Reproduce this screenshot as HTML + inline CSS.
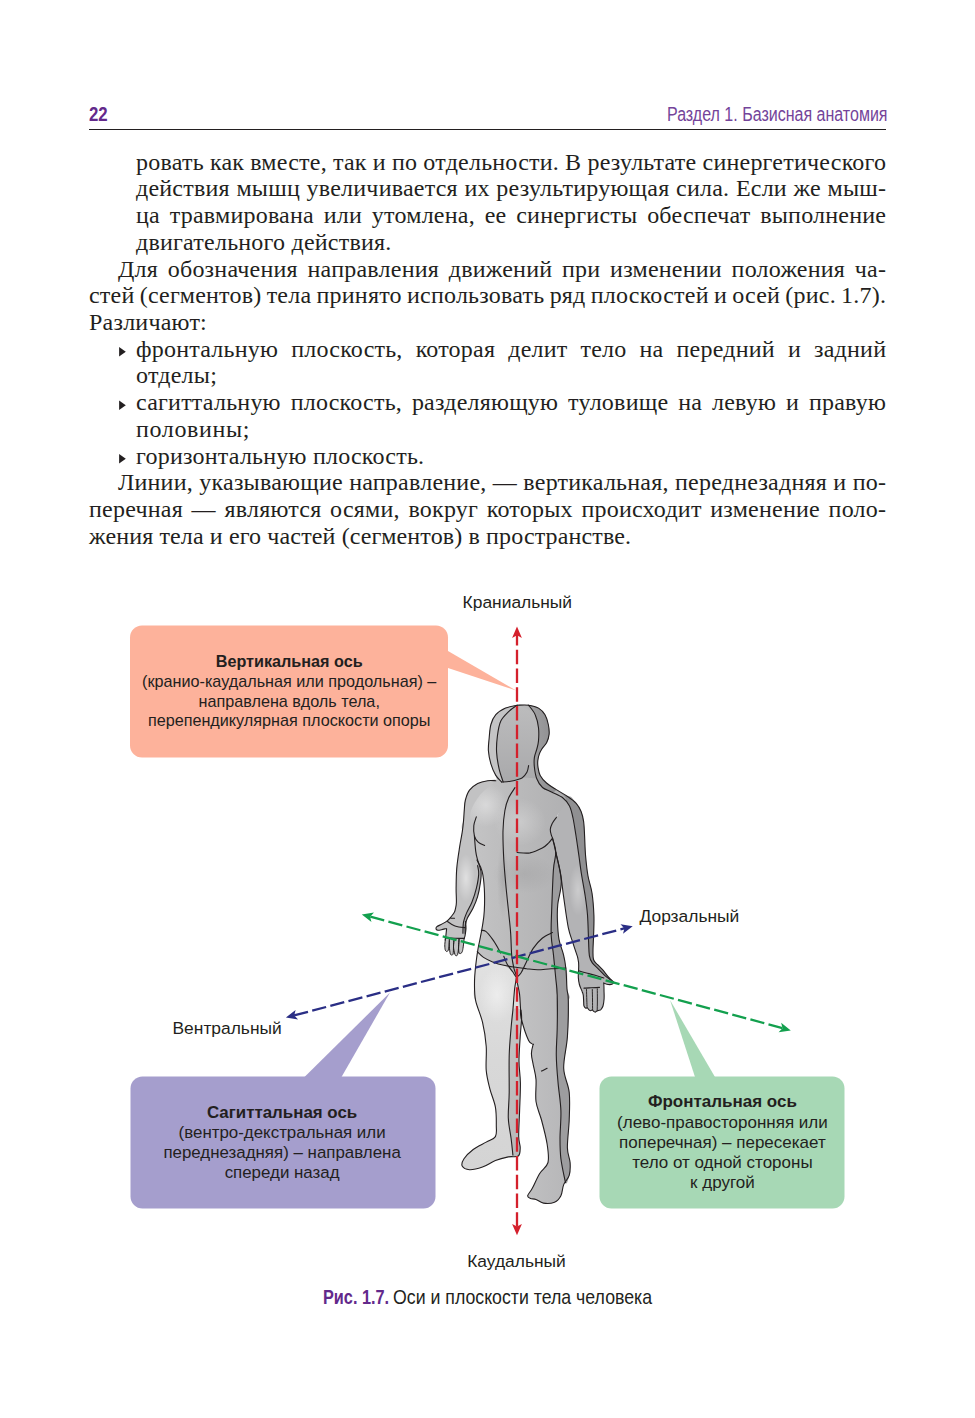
<!DOCTYPE html>
<html><head><meta charset="utf-8">
<style>
html,body{margin:0;padding:0;background:#fff;}
body{width:975px;height:1418px;position:relative;overflow:hidden;}
.hd{position:absolute;font-family:"Liberation Sans",sans-serif;color:#6f3391;white-space:nowrap;transform-origin:0 0;}
.rule{position:absolute;left:89px;width:797px;top:129px;height:1px;background:#231f20;}
.ln{position:absolute;font-family:"Liberation Serif",serif;font-size:24px;letter-spacing:0.22px;line-height:30px;height:30px;color:#231f20;white-space:nowrap;}
.j{}
.i1{left:136px;width:750px;}
.i2{left:118px;width:768px;}
.i0{left:89px;width:797px;}
.bul{position:absolute;left:119.2px;width:0;height:0;border-top:4.75px solid transparent;border-bottom:4.75px solid transparent;border-left:6.5px solid #231f20;}
svg{position:absolute;left:0;top:0;}
.lab{font-family:"Liberation Sans",sans-serif;font-size:17.4px;fill:#231f20;}
.bx{font-family:"Liberation Sans",sans-serif;fill:#231f20;}
.bxb{font-family:"Liberation Sans",sans-serif;font-weight:bold;fill:#231f20;}
</style></head>
<body>
<div class="hd" id="pn" style="left:88.8px;top:103px;font-size:19.8px;font-weight:bold;transform:scaleX(0.85);color:#63298b;">22</div>
<div class="hd" id="rt" style="left:667.0px;top:103px;font-size:19.6px;transform:scaleX(0.817);color:#74449a;">Раздел 1. Базисная анатомия</div>
<div class="rule"></div>

<div class="ln i1 j" style="top:146.60px;word-spacing:-0.142px">ровать как вместе, так и по отдельности. В результате синергетического</div>
<div class="ln i1 j" style="top:173.33px;word-spacing:0.408px">действия мышц увеличивается их результирующая сила. Если же мыш-</div>
<div class="ln i1 j" style="top:200.06px;word-spacing:3.581px">ца травмирована или утомлена, ее синергисты обеспечат выполнение</div>
<div class="ln i1" style="top:226.79px">двигательного действия.</div>
<div class="ln i2 j" style="top:253.52px;word-spacing:3.482px">Для обозначения направления движений при изменении положения ча-</div>
<div class="ln i0 j" style="top:280.25px;word-spacing:-1.008px">стей (сегментов) тела принято использовать ряд плоскостей и осей (рис. 1.7).</div>
<div class="ln i0" style="top:306.98px">Различают:</div>
<div class="ln i1 j" style="top:333.71px;word-spacing:6.822px">фронтальную плоскость, которая делит тело на передний и задний</div>
<div class="ln i1" style="top:360.44px">отделы;</div>
<div class="ln i1 j" style="top:387.17px;word-spacing:3.656px">сагиттальную плоскость, разделяющую туловище на левую и правую</div>
<div class="ln i1" style="top:413.90px;letter-spacing:0.65px">половины;</div>
<div class="ln i1" style="top:440.63px">горизонтальную плоскость.</div>
<div class="ln i2 j" style="top:467.36px;word-spacing:0.112px">Линии, указывающие направление, — вертикальная, переднезадняя и по-</div>
<div class="ln i0 j" style="top:494.09px;word-spacing:2.465px">перечная — являются осями, вокруг которых происходит изменение поло-</div>
<div class="ln i0" style="top:520.82px;letter-spacing:0.13px">жения тела и его частей (сегментов) в пространстве.</div>

<svg width="975" height="1418" viewBox="0 0 975 1418">
  <!-- boxes -->
  <g id="bullets"><path d="M119.1,347.00 L125.8,351.75 L119.1,356.50 Z" fill="#231f20"/><path d="M119.1,400.50 L125.8,405.25 L119.1,410.00 Z" fill="#231f20"/><path d="M119.1,453.90 L125.8,458.65 L119.1,463.40 Z" fill="#231f20"/></g>
  <g id="boxes">
    <path d="M448,651 L516,690.5 L448,668 Z" fill="#fdb29b"/>
    <rect x="130" y="625.5" width="318" height="132" rx="12" fill="#fdb29b"/>
    <path d="M304.5,1077 L390,992.5 L341.5,1077 Z" fill="#a59ecd"/>
    <rect x="130.5" y="1076.5" width="305" height="132" rx="12" fill="#a59ecd"/>
    <path d="M695,1077 L670,1000 L715,1077 Z" fill="#a7d8b5"/>
    <rect x="599.5" y="1076.5" width="245" height="132" rx="12" fill="#a7d8b5"/>
  </g>
  <g id="figure"><defs><radialGradient id="gHi" cx="0.5" cy="0.5" r="0.5"><stop offset="0" stop-color="#ffffff" stop-opacity="0.55"/><stop offset="1" stop-color="#ffffff" stop-opacity="0"/></radialGradient><radialGradient id="gSh" cx="0.5" cy="0.5" r="0.5"><stop offset="0" stop-color="#000000" stop-opacity="0.10"/><stop offset="1" stop-color="#000000" stop-opacity="0"/></radialGradient><linearGradient id="gFace" x1="0" y1="0" x2="0" y2="1"><stop offset="0" stop-color="#bcbcbd"/><stop offset="1" stop-color="#a9a9ab"/></linearGradient><linearGradient id="gStripH" x1="0" y1="0" x2="1" y2="0"><stop offset="0" stop-color="#a4a4a6"/><stop offset="1" stop-color="#8c8c8e"/></linearGradient><linearGradient id="gLegL" x1="0" y1="0" x2="0" y2="1"><stop offset="0" stop-color="#e2e2e2"/><stop offset="0.5" stop-color="#d8d8d8"/><stop offset="1" stop-color="#d4d4d4"/></linearGradient><linearGradient id="gLegLs" x1="0" y1="0" x2="0" y2="1"><stop offset="0" stop-color="#c4c4c4"/><stop offset="1" stop-color="#b8b8b8"/></linearGradient><linearGradient id="gLegR" x1="0" y1="0" x2="1" y2="0"><stop offset="0" stop-color="#c2c2c3"/><stop offset="1" stop-color="#b6b6b8"/></linearGradient><linearGradient id="gTorso" x1="0" y1="0" x2="1" y2="0"><stop offset="0" stop-color="#c6c6c7"/><stop offset="0.55" stop-color="#b9b9ba"/><stop offset="1" stop-color="#b0b0b2"/></linearGradient></defs>
<path d="M568.0,796.7 C571.3,794.4 574.0,800.8 576.2,803.3 C578.4,805.8 579.9,808.5 581.1,811.5 C582.3,814.5 583.0,817.3 583.6,821.4 C584.2,825.5 584.3,830.2 584.6,836.0 C584.9,841.8 585.0,849.3 585.6,856.0 C586.2,862.7 586.9,869.8 588.0,876.0 C589.1,882.2 591.0,886.5 592.0,893.0 C593.0,899.5 593.6,908.0 593.9,915.0 C594.2,922.0 593.8,929.2 593.6,935.0 C593.5,940.8 593.0,945.9 593.0,950.0 C593.0,954.1 592.8,957.1 593.5,959.5 C594.2,961.9 595.8,962.8 597.3,964.4 C598.8,966.0 600.5,967.4 602.3,969.4 C604.1,971.4 606.2,974.5 608.1,976.6 C610.0,978.8 613.1,981.0 613.8,982.3 C614.5,983.5 613.3,983.7 612.4,984.1 C611.5,984.5 609.5,984.7 608.1,984.5 C606.7,984.3 604.5,982.1 603.8,983.0 C603.1,983.9 604.0,987.4 604.0,990.0 C604.0,992.6 604.3,996.1 604.1,998.8 C603.9,1001.5 603.5,1004.2 603.0,1006.0 C602.5,1007.8 601.5,1008.9 600.9,1009.6 C600.2,1010.3 599.8,1010.1 599.1,1010.3 C598.4,1010.5 597.5,1010.7 596.9,1011.0 C596.2,1011.3 595.7,1012.0 595.2,1012.1 C594.7,1012.2 594.2,1011.8 593.7,1011.4 C593.2,1011.0 592.8,1010.1 592.3,1010.0 C591.8,1009.9 591.1,1010.8 590.5,1010.7 C589.9,1010.6 589.2,1010.1 588.7,1009.6 C588.2,1009.1 587.8,1008.0 587.3,1007.8 C586.8,1007.6 586.3,1008.5 585.8,1008.2 C585.2,1007.9 584.4,1007.0 584.0,1006.0 C583.6,1005.0 583.8,1004.2 583.7,1002.4 C583.6,1000.6 583.5,997.1 583.3,995.3 C583.0,993.5 582.9,993.5 582.2,991.7 C581.6,989.9 580.0,986.9 579.4,984.5 C578.8,982.1 578.4,979.7 578.3,977.3 C578.2,974.9 578.5,972.5 578.6,970.1 C578.7,967.7 578.8,965.1 578.6,962.9 C578.4,960.7 578.5,960.3 577.6,957.0 C576.7,953.7 574.5,948.1 573.0,943.2 C571.5,938.3 569.9,935.4 568.3,927.6 C566.7,919.8 564.9,905.7 563.6,896.6 C562.3,887.5 561.8,880.7 560.5,873.3 C559.2,865.9 557.1,858.1 555.8,852.3 C554.5,846.4 553.2,841.0 552.5,838.2 C551.8,835.4 551.9,837.2 551.5,835.7 C551.1,834.2 550.2,831.5 550.3,829.5 C550.4,827.5 551.2,825.4 552.2,823.4 C553.2,821.4 553.9,821.7 556.5,817.2 C559.1,812.8 564.7,799.0 568.0,796.7Z" fill="#b3b3b5" stroke="none" stroke-width="1.1" stroke-linejoin="round" stroke-linecap="round"/>
<ellipse cx="578" cy="890" rx="9" ry="26" fill="url(#gHi)" opacity="0.6"/>
<path d="M528.6,705.2 C530.2,705.7 535.8,706.5 538.5,708.1 C541.2,709.7 543.4,712.0 545.0,714.7 C546.6,717.4 547.6,721.2 548.3,724.5 C549.0,727.8 549.4,731.4 549.1,734.4 C548.8,737.4 547.9,740.1 546.7,742.6 C545.5,745.1 542.9,747.3 541.7,749.2 C540.5,751.1 539.9,752.2 539.3,754.1 C538.6,756.0 538.0,758.4 537.8,760.6 C537.6,762.8 537.6,764.7 538.0,767.2 C538.4,769.7 538.8,772.8 540.2,775.4 C541.6,778.0 543.9,780.7 546.5,783.0 C549.1,785.3 552.3,787.1 555.9,789.4 C559.5,791.7 564.6,794.4 568.0,796.7 C571.4,799.0 574.0,800.8 576.2,803.3 C578.4,805.8 579.9,808.5 581.1,811.5 C582.3,814.5 583.0,817.3 583.6,821.4 C584.2,825.5 584.3,830.2 584.6,836.0 C584.9,841.8 585.0,849.3 585.6,856.0 C586.2,862.7 586.9,869.8 588.0,876.0 C589.1,882.2 591.0,886.5 592.0,893.0 C593.0,899.5 593.6,908.0 593.9,915.0 C594.2,922.0 593.8,929.2 593.6,935.0 C593.5,940.8 593.0,945.9 593.0,950.0 C593.0,954.1 592.8,957.1 593.5,959.5 C594.2,961.9 595.8,962.8 597.3,964.4 C598.8,966.0 600.5,967.4 602.3,969.4 C604.1,971.4 606.2,974.5 608.1,976.6 C610.0,978.8 613.3,981.7 613.8,982.3 C614.3,982.9 612.3,981.3 610.9,980.2 C609.5,979.1 607.4,977.8 605.2,975.9 C603.1,974.0 600.1,970.9 598.0,968.7 C595.9,966.5 593.7,965.0 592.3,962.9 C590.9,960.8 590.0,959.3 589.4,955.8 C588.8,952.3 588.9,948.9 588.6,942.1 C588.3,935.3 588.1,922.7 587.5,915.0 C586.9,907.3 586.2,902.7 585.2,896.0 C584.2,889.3 582.7,881.8 581.6,875.0 C580.5,868.2 579.8,861.8 578.8,855.0 C577.8,848.2 576.8,840.7 575.8,834.5 C574.8,828.3 574.0,822.8 573.0,818.0 C572.0,813.2 571.2,809.3 569.5,806.0 C567.8,802.7 566.0,800.3 563.0,798.0 C560.0,795.7 554.9,793.8 551.5,792.0 C548.1,790.2 545.0,789.7 542.5,787.5 C540.0,785.3 538.1,782.1 536.8,778.7 C535.4,775.3 534.8,770.8 534.4,767.2 C534.0,763.7 534.0,760.4 534.4,757.4 C534.8,754.4 536.1,752.0 536.8,749.2 C537.5,746.5 538.2,744.5 538.5,740.9 C538.8,737.3 539.0,732.2 538.5,727.8 C538.0,723.4 536.9,718.5 535.2,714.7 C533.6,710.9 529.7,706.8 528.6,705.2 C527.5,703.6 527.0,704.7 528.6,705.2Z" fill="#909092" stroke="none" stroke-width="1.1" stroke-linejoin="round" stroke-linecap="round"/>
<path d="M517.1,705.2 C520.9,704.7 525.0,704.7 528.6,705.2 C532.2,705.7 535.8,706.5 538.5,708.1 C541.2,709.7 543.4,712.0 545.0,714.7 C546.6,717.4 547.6,721.2 548.3,724.5 C549.0,727.8 549.4,731.4 549.1,734.4 C548.8,737.4 547.9,740.1 546.7,742.6 C545.5,745.1 542.9,747.3 541.7,749.2 C540.5,751.1 539.9,752.2 539.3,754.1 C538.6,756.0 538.0,758.4 537.8,760.6 C537.6,762.8 537.6,764.7 538.0,767.2 C538.4,769.7 538.8,772.8 540.2,775.4 C541.6,778.0 543.9,780.7 546.5,783.0 C549.1,785.3 552.6,786.6 555.9,789.4 C559.1,792.2 566.0,795.4 566.0,800.0 C566.0,804.6 558.5,813.4 556.2,817.3 C553.9,821.2 553.2,821.4 552.2,823.4 C551.2,825.4 550.4,827.5 550.3,829.5 C550.2,831.5 551.1,834.2 551.5,835.7 C551.9,837.2 551.8,835.4 552.5,838.2 C553.2,841.0 554.3,845.2 555.8,852.3 C557.3,859.4 561.0,872.3 561.3,881.0 C561.6,889.7 558.4,897.8 557.8,904.3 C557.1,910.8 557.2,914.1 557.4,919.9 C557.6,925.7 558.0,933.4 559.0,939.3 C560.0,945.2 562.5,950.2 563.6,955.1 C564.8,960.0 565.3,963.1 565.9,968.7 C566.5,974.4 566.6,983.8 567.0,989.0 C567.4,994.2 572.0,996.2 568.3,1000.0 C564.6,1003.8 553.0,1010.0 545.0,1012.0 C537.0,1014.0 528.3,1012.3 520.0,1012.0 C511.7,1011.7 502.4,1012.0 495.0,1010.0 C487.6,1008.0 479.0,1004.8 475.6,1000.3 C472.2,995.8 474.5,988.9 474.5,983.3 C474.5,977.6 475.0,972.0 475.6,966.4 C476.2,960.8 477.2,953.9 477.9,949.5 C478.6,945.1 479.0,944.1 479.8,940.0 C480.6,935.9 481.9,929.8 482.6,924.9 C483.4,920.0 484.0,916.9 484.3,910.8 C484.6,904.7 484.7,894.8 484.3,888.2 C483.9,881.6 483.3,876.0 482.1,871.3 C480.9,866.6 480.3,866.8 477.0,860.0 C473.7,853.2 464.6,837.5 462.4,830.8 C460.2,824.1 463.3,823.5 463.6,820.0 C463.9,816.5 464.0,813.2 464.3,809.9 C464.6,806.6 464.5,803.3 465.4,800.0 C466.3,796.7 467.4,792.9 469.5,790.2 C471.6,787.5 474.7,785.2 477.7,783.6 C480.7,782.0 484.6,781.2 487.6,780.7 C490.6,780.2 494.4,781.6 495.8,780.7 C497.2,779.8 496.6,778.2 495.8,775.4 C495.0,772.6 492.1,768.0 490.9,763.9 C489.7,759.8 488.7,755.2 488.4,750.8 C488.1,746.4 488.8,742.1 489.2,737.7 C489.6,733.3 489.8,728.3 490.9,724.5 C492.0,720.7 493.4,717.4 495.8,714.7 C498.2,712.0 502.1,709.7 505.6,708.1 C509.2,706.5 513.3,705.7 517.1,705.2Z" fill="url(#gTorso)" stroke="none" stroke-width="1.1" stroke-linejoin="round" stroke-linecap="round"/>
<ellipse cx="486" cy="805" rx="22" ry="22" fill="url(#gHi)" opacity="0.7"/>
<ellipse cx="520" cy="822" rx="26" ry="24" fill="url(#gHi)" opacity="0.45"/>
<ellipse cx="524" cy="874" rx="32" ry="20" fill="url(#gSh)" opacity="0.6"/>
<ellipse cx="503" cy="880" rx="6" ry="40" fill="url(#gSh)" opacity="0.8"/>
<path d="M565.9,968.7 C568.5,972.1 566.6,983.8 567.0,989.0 C567.4,994.2 568.2,992.0 568.3,1000.0 C568.4,1008.0 568.2,1025.5 567.4,1036.9 C566.6,1048.3 563.4,1059.1 563.7,1068.3 C564.0,1077.5 568.3,1083.7 569.2,1092.3 C570.1,1100.9 569.5,1110.8 569.2,1120.0 C568.9,1129.2 567.2,1140.6 567.4,1147.7 C567.5,1154.8 569.8,1157.9 570.1,1162.5 C570.4,1167.1 570.3,1171.7 569.2,1175.4 C568.1,1179.1 565.1,1181.2 563.7,1184.6 C562.3,1188.0 562.4,1192.8 560.9,1195.7 C559.4,1198.6 557.4,1201.0 554.5,1202.2 C551.6,1203.4 546.5,1203.6 543.4,1203.1 C540.3,1202.6 538.1,1200.2 536.0,1199.4 C533.9,1198.6 531.9,1199.1 530.5,1198.5 C529.1,1197.9 527.4,1197.4 527.7,1195.7 C528.0,1194.0 530.3,1192.0 532.3,1188.3 C534.3,1184.6 537.1,1177.8 539.7,1173.5 C542.3,1169.2 546.8,1167.4 548.0,1162.5 C549.2,1157.6 548.2,1151.1 547.1,1144.0 C546.0,1136.9 543.4,1127.1 541.5,1120.0 C539.6,1112.9 536.9,1108.3 536.0,1101.5 C535.1,1094.7 536.5,1085.6 536.0,1079.4 C535.5,1073.2 534.0,1068.9 533.2,1064.6 C532.4,1060.3 531.4,1056.9 531.4,1053.5 C531.4,1050.1 533.7,1046.5 533.2,1044.3 C532.7,1042.1 530.6,1044.9 528.6,1040.6 C526.6,1036.3 522.6,1023.9 521.2,1018.5 C519.9,1013.1 520.8,1012.0 520.5,1008.0 C520.2,1004.0 520.1,998.7 519.6,994.6 C519.1,990.5 518.0,986.3 517.4,983.3 C516.8,980.3 515.7,978.3 516.3,976.6 C516.9,974.9 519.1,974.5 520.8,973.2 C522.5,971.9 523.6,969.3 526.4,968.7 C529.2,968.1 533.6,969.8 537.7,969.8 C541.8,969.8 546.5,968.9 551.2,968.7 C555.9,968.5 563.3,965.3 565.9,968.7Z" fill="url(#gLegR)" stroke="none" stroke-width="1.1" stroke-linejoin="round" stroke-linecap="round"/>
<path d="M568.3,1000.0 C570.0,1007.0 568.2,1025.5 567.4,1036.9 C566.6,1048.3 563.4,1059.1 563.7,1068.3 C564.0,1077.5 568.3,1083.7 569.2,1092.3 C570.1,1100.9 569.5,1110.8 569.2,1120.0 C568.9,1129.2 567.2,1140.6 567.4,1147.7 C567.5,1154.8 569.8,1157.9 570.1,1162.5 C570.4,1167.1 570.0,1172.0 569.2,1175.4 C568.4,1178.8 566.9,1185.6 565.5,1182.8 C564.1,1180.0 561.8,1166.2 560.9,1158.8 C560.0,1151.4 560.0,1146.5 560.0,1138.5 C560.0,1130.5 561.2,1120.0 560.9,1110.8 C560.6,1101.6 558.9,1092.3 558.1,1083.1 C557.3,1073.9 556.4,1064.6 556.3,1055.4 C556.1,1046.2 557.1,1037.8 557.2,1027.7 C557.4,1017.6 555.4,999.6 557.2,995.0 C559.1,990.4 566.6,993.0 568.3,1000.0Z" fill="#9d9d9f" stroke="none" stroke-width="1.1" stroke-linejoin="round" stroke-linecap="round"/>
<path d="M475.6,966.4 C475.1,971.7 474.5,977.6 474.5,983.3 C474.5,988.9 474.3,993.8 475.6,1000.3 C476.9,1006.8 480.7,1014.6 482.5,1022.2 C484.3,1029.9 485.6,1038.2 486.2,1046.2 C486.8,1054.2 485.6,1063.0 486.2,1070.1 C486.8,1077.2 488.3,1082.4 489.8,1088.6 C491.3,1094.8 494.3,1100.9 495.4,1107.1 C496.5,1113.2 496.3,1120.6 496.3,1125.5 C496.3,1130.4 497.1,1133.8 495.4,1136.6 C493.7,1139.4 489.9,1139.9 486.2,1142.1 C482.5,1144.2 476.9,1146.7 473.2,1149.5 C469.5,1152.3 465.8,1156.0 464.0,1158.8 C462.2,1161.6 461.3,1164.3 462.2,1166.1 C463.1,1167.9 466.1,1169.6 469.5,1169.8 C472.9,1170.0 478.2,1168.6 482.5,1167.1 C486.8,1165.6 491.1,1162.3 495.4,1160.6 C499.7,1158.9 504.5,1157.7 508.3,1156.9 C512.1,1156.1 516.3,1157.5 518.3,1156.0 C520.3,1154.5 520.1,1150.9 520.2,1147.7 C520.3,1144.5 518.8,1142.8 518.7,1136.6 C518.6,1130.4 519.3,1119.7 519.6,1110.8 C519.9,1101.9 520.5,1091.4 520.4,1083.1 C520.3,1074.8 519.0,1068.6 519.0,1060.9 C519.0,1053.2 519.8,1044.0 520.2,1036.9 C520.6,1029.8 521.5,1023.0 521.6,1018.5 C521.7,1014.0 521.3,1014.0 521.0,1010.0 C520.7,1006.0 520.2,999.1 519.6,994.6 C519.0,990.1 518.0,986.3 517.4,983.3 C516.8,980.3 517.0,978.5 516.3,976.6 C515.5,974.7 515.0,973.9 512.9,972.0 C510.8,970.1 507.2,967.0 503.8,965.3 C500.4,963.6 496.0,963.2 492.6,961.9 C489.2,960.6 486.1,959.1 483.5,957.4 C480.9,955.7 478.6,950.2 477.3,951.7 C476.0,953.2 476.1,961.1 475.6,966.4Z" fill="url(#gLegL)" stroke="none" stroke-width="1.1" stroke-linejoin="round" stroke-linecap="round"/>
<path d="M512.9,1010.0 C511.2,1013.0 511.7,1020.1 511.1,1027.7 C510.5,1035.3 509.5,1044.6 509.2,1055.4 C508.9,1066.2 509.3,1081.8 509.2,1092.3 C509.1,1102.8 508.0,1110.4 508.3,1118.1 C508.6,1125.8 510.3,1132.3 511.1,1138.5 C511.9,1144.7 511.7,1152.2 512.9,1155.1 C514.1,1158.0 517.1,1157.2 518.3,1156.0 C519.5,1154.8 520.1,1150.9 520.2,1147.7 C520.3,1144.5 518.8,1142.8 518.7,1136.6 C518.6,1130.4 519.3,1119.7 519.6,1110.8 C519.9,1101.9 520.5,1091.4 520.4,1083.1 C520.3,1074.8 519.0,1068.6 519.0,1060.9 C519.0,1053.2 519.8,1044.0 520.2,1036.9 C520.6,1029.8 521.5,1023.0 521.6,1018.5 C521.7,1014.0 522.5,1011.4 521.0,1010.0 C519.5,1008.6 514.5,1007.0 512.9,1010.0Z" fill="url(#gLegLs)" stroke="none" stroke-width="1.1" stroke-linejoin="round" stroke-linecap="round"/>
<ellipse cx="497" cy="995" rx="18" ry="28" fill="url(#gHi)" opacity="0.8"/>
<path d="M517.1,705.2 C512.7,704.7 511.6,708.7 508.9,711.4 C506.2,714.1 502.6,717.2 500.7,721.3 C498.8,725.4 498.1,730.8 497.4,736.0 C496.7,741.2 496.3,746.9 496.6,752.4 C496.9,757.9 498.0,763.9 499.1,768.8 C500.2,773.7 502.5,779.8 503.2,782.0 C503.9,784.2 502.0,782.1 503.2,782.0 C504.4,781.9 507.5,781.9 510.6,781.2 C513.7,780.5 517.6,778.3 522.0,777.9 C526.4,777.5 534.3,778.6 536.8,778.7 C539.3,778.8 537.2,780.6 536.8,778.7 C536.4,776.8 534.8,770.8 534.4,767.2 C534.0,763.7 534.0,760.4 534.4,757.4 C534.8,754.4 536.1,752.0 536.8,749.2 C537.5,746.5 538.2,744.5 538.5,740.9 C538.8,737.3 539.0,732.2 538.5,727.8 C538.0,723.4 538.8,718.5 535.2,714.7 C531.6,710.9 521.5,705.8 517.1,705.2Z" fill="url(#gFace)" stroke="none" stroke-width="1.1" stroke-linejoin="round" stroke-linecap="round"/>
<path d="M528.6,705.2 C530.2,705.7 535.8,706.5 538.5,708.1 C541.2,709.7 543.4,712.0 545.0,714.7 C546.6,717.4 547.6,721.2 548.3,724.5 C549.0,727.8 549.4,731.4 549.1,734.4 C548.8,737.4 547.9,740.1 546.7,742.6 C545.5,745.1 542.9,747.3 541.7,749.2 C540.5,751.1 539.9,752.2 539.3,754.1 C538.6,756.0 538.0,758.4 537.8,760.6 C537.6,762.8 537.6,764.7 538.0,767.2 C538.4,769.7 538.8,772.8 540.2,775.4 C541.6,778.0 543.9,780.7 546.5,783.0 C549.1,785.3 555.1,787.9 555.9,789.4 C556.7,790.9 553.7,792.3 551.5,792.0 C549.3,791.7 545.0,789.7 542.5,787.5 C540.0,785.3 538.1,782.1 536.8,778.7 C535.4,775.3 534.8,770.8 534.4,767.2 C534.0,763.7 534.0,760.4 534.4,757.4 C534.8,754.4 536.1,752.0 536.8,749.2 C537.5,746.5 538.2,744.5 538.5,740.9 C538.8,737.3 539.0,732.2 538.5,727.8 C538.0,723.4 536.9,718.5 535.2,714.7 C533.6,710.9 529.7,706.8 528.6,705.2 C527.5,703.6 527.0,704.7 528.6,705.2Z" fill="url(#gStripH)" stroke="none" stroke-width="1.1" stroke-linejoin="round" stroke-linecap="round"/>
<path d="M517.1,705.2 C515.2,705.7 509.2,706.5 505.6,708.1 C502.1,709.7 498.2,712.0 495.8,714.7 C493.4,717.4 492.0,720.7 490.9,724.5 C489.8,728.3 489.6,733.3 489.2,737.7 C488.8,742.1 488.1,746.4 488.4,750.8 C488.7,755.2 489.7,759.8 490.9,763.9 C492.1,768.0 494.0,772.4 495.8,775.4 C497.6,778.4 500.3,780.9 501.5,782.0 C502.7,783.1 503.6,784.2 503.2,782.0 C502.8,779.8 500.2,773.7 499.1,768.8 C498.0,763.9 496.9,757.9 496.6,752.4 C496.3,746.9 496.7,741.2 497.4,736.0 C498.1,730.8 498.8,725.4 500.7,721.3 C502.6,717.2 506.2,714.1 508.9,711.4 C511.6,708.7 515.7,706.2 517.1,705.2 C518.5,704.2 519.0,704.7 517.1,705.2Z" fill="#c4c4c5" stroke="none" stroke-width="1.1" stroke-linejoin="round" stroke-linecap="round"/>
<path d="M555.8,852.3 C557.3,859.4 561.0,872.3 561.3,881.0 C561.6,889.7 558.4,897.8 557.8,904.3 C557.1,910.8 557.2,914.1 557.4,919.9 C557.6,925.7 558.0,933.4 559.0,939.3 C560.0,945.2 562.5,950.2 563.6,955.1 C564.8,960.0 565.3,963.1 565.9,968.7 C566.5,974.4 566.6,983.8 567.0,989.0 C567.4,994.2 569.9,999.0 568.3,1000.0 C566.7,1001.0 559.3,998.7 557.2,995.0 C555.1,991.3 556.3,984.4 555.7,977.7 C555.1,971.1 554.2,962.2 553.5,955.1 C552.8,948.0 551.5,942.6 551.2,935.4 C550.9,928.2 551.2,923.0 551.6,912.1 C552.0,901.2 552.7,880.0 553.4,870.0 C554.1,860.0 555.9,857.6 555.8,852.3 C555.6,847.0 552.5,838.2 552.5,838.2 C552.5,838.2 554.3,845.2 555.8,852.3Z" fill="#9c9c9e" stroke="none" stroke-width="1.1" stroke-linejoin="round" stroke-linecap="round"/>
<path d="M495.8,780.7 C497.1,778.3 490.6,780.2 487.6,780.7 C484.6,781.2 480.7,782.0 477.7,783.6 C474.7,785.2 471.6,787.5 469.5,790.2 C467.4,792.9 466.3,796.7 465.4,800.0 C464.5,803.3 464.6,806.6 464.3,809.9 C464.0,813.2 463.9,816.5 463.6,820.0 C463.3,823.5 463.1,825.8 462.4,830.8 C461.7,835.8 460.1,843.4 459.2,849.8 C458.2,856.1 457.2,862.5 456.7,868.9 C456.2,875.3 456.2,882.6 456.1,888.2 C456.1,893.8 456.5,899.0 456.4,902.3 C456.3,905.6 455.9,906.4 455.6,908.0 C455.3,909.6 455.1,910.7 454.5,912.0 C453.9,913.3 452.9,914.6 451.7,916.0 C450.5,917.4 449.2,919.2 447.5,920.6 C445.8,922.0 443.3,923.3 441.5,924.3 C439.7,925.3 437.8,925.8 436.9,926.6 C436.0,927.4 435.9,928.3 436.0,928.9 C436.1,929.5 436.9,930.1 437.8,930.3 C438.7,930.4 440.1,930.1 441.5,929.8 C442.9,929.5 445.3,928.6 446.2,928.5 C447.1,928.4 446.7,927.8 446.6,928.9 C446.6,930.0 446.2,932.8 445.9,935.4 C445.6,938.0 444.9,942.2 444.8,944.6 C444.7,947.0 444.9,948.6 445.2,949.7 C445.5,950.9 446.1,951.4 446.6,951.5 C447.1,951.6 447.5,950.7 448.0,950.6 C448.5,950.5 449.0,950.5 449.4,951.0 C449.8,951.5 449.9,953.1 450.3,953.8 C450.7,954.5 451.2,955.0 451.7,955.0 C452.2,955.0 452.7,954.0 453.1,953.8 C453.5,953.6 453.9,953.9 454.2,954.0 C454.5,954.1 454.5,954.0 454.9,954.3 C455.2,954.6 455.8,955.7 456.3,955.7 C456.8,955.7 457.3,954.8 457.7,954.3 C458.1,953.8 458.6,953.2 458.8,953.0 C459.0,952.8 458.8,952.8 459.1,952.9 C459.5,953.0 460.4,953.6 460.9,953.4 C461.4,953.2 461.9,952.6 462.3,951.5 C462.7,950.4 462.9,949.0 463.2,946.9 C463.5,944.8 463.8,940.5 464.1,938.6 C464.4,936.7 464.8,937.1 465.1,935.4 C465.4,933.7 465.9,930.8 466.0,928.5 C466.1,926.2 465.3,923.2 465.5,921.5 C465.7,919.8 466.1,920.4 467.4,918.1 C468.7,915.9 471.4,911.6 473.1,908.0 C474.8,904.4 476.4,900.9 477.6,896.7 C478.8,892.5 479.8,886.8 480.4,882.6 C481.0,878.4 481.5,875.1 481.0,871.3 C480.5,867.5 478.5,863.4 477.6,860.0 C476.7,856.6 476.2,855.1 475.7,851.1 C475.2,847.1 475.3,841.9 474.4,835.9 C473.4,829.9 469.1,821.8 470.0,815.0 C470.9,808.2 475.7,800.7 480.0,795.0 C484.3,789.3 494.5,783.1 495.8,780.7Z" fill="#c2c2c3" stroke="none" stroke-width="1.1" stroke-linejoin="round" stroke-linecap="round"/>
<ellipse cx="466" cy="878" rx="9" ry="24" fill="url(#gHi)" opacity="0.9"/>
<path d="M477.6,865.6 C477.8,868.0 478.9,870.3 478.7,874.1 C478.5,877.9 477.5,883.5 476.4,888.2 C475.3,892.9 473.6,898.1 471.9,902.3 C470.2,906.5 467.7,910.3 466.3,913.6 C464.9,916.9 464.1,918.8 463.5,922.1 C462.9,925.4 462.6,931.4 462.9,933.3 C463.2,935.2 464.8,934.7 465.2,933.3 C465.6,931.9 465.0,927.4 465.4,924.9 C465.8,922.4 466.1,920.9 467.4,918.1 C468.7,915.3 471.4,911.6 473.1,908.0 C474.8,904.4 476.4,900.9 477.6,896.7 C478.8,892.5 479.8,886.8 480.4,882.6 C481.0,878.4 481.5,875.1 481.0,871.3 C480.5,867.5 478.2,861.0 477.6,860.0 C477.0,859.0 477.4,863.2 477.6,865.6Z" fill="#aeaeb0" stroke="none" stroke-width="1.1" stroke-linejoin="round" stroke-linecap="round"/>
<path d="M450.8,918.3 C451.4,918.3 453.9,918.3 454.5,918.3" fill="none" stroke="#231f20" stroke-width="1.1" stroke-linejoin="round" stroke-linecap="round"/>
<path d="M445.2,937.9 C446.8,938.0 451.9,938.1 455.0,938.2 C458.1,938.3 462.6,938.4 464.1,938.4" fill="none" stroke="#231f20" stroke-width="1.1" stroke-linejoin="round" stroke-linecap="round"/>
<path d="M517.1,705.2 C515.2,705.7 509.2,706.5 505.6,708.1 C502.1,709.7 498.2,712.0 495.8,714.7 C493.4,717.4 492.0,720.7 490.9,724.5 C489.8,728.3 489.6,733.3 489.2,737.7 C488.8,742.1 488.1,746.4 488.4,750.8 C488.7,755.2 489.7,759.8 490.9,763.9 C492.1,768.0 494.0,772.4 495.8,775.4 C497.6,778.4 500.6,780.9 501.5,782.0" fill="none" stroke="#231f20" stroke-width="1.1" stroke-linejoin="round" stroke-linecap="round"/>
<path d="M501.5,782.0 C503.0,781.9 507.2,781.9 510.6,781.2 C514.0,780.5 519.3,779.4 522.0,777.9 C524.7,776.4 525.9,774.1 527.0,772.1 C528.1,770.1 528.3,766.7 528.6,765.6" fill="none" stroke="#231f20" stroke-width="1.1" stroke-linejoin="round" stroke-linecap="round"/>
<path d="M517.1,705.2 C515.7,706.2 511.6,708.7 508.9,711.4 C506.2,714.1 502.6,717.2 500.7,721.3 C498.8,725.4 498.1,730.8 497.4,736.0 C496.7,741.2 496.3,746.9 496.6,752.4 C496.9,757.9 498.0,763.9 499.1,768.8 C500.2,773.7 502.5,779.8 503.2,782.0" fill="none" stroke="#231f20" stroke-width="1.1" stroke-linejoin="round" stroke-linecap="round"/>
<path d="M517.1,705.2 C519.0,705.2 525.0,704.7 528.6,705.2 C532.2,705.7 535.8,706.5 538.5,708.1 C541.2,709.7 543.4,712.0 545.0,714.7 C546.6,717.4 547.6,721.2 548.3,724.5 C549.0,727.8 549.4,731.4 549.1,734.4 C548.8,737.4 547.9,740.1 546.7,742.6 C545.5,745.1 542.9,747.3 541.7,749.2 C540.5,751.1 539.9,752.2 539.3,754.1 C538.6,756.0 538.0,758.4 537.8,760.6 C537.6,762.8 537.6,764.7 538.0,767.2 C538.4,769.7 538.8,772.8 540.2,775.4 C541.6,778.0 543.9,780.7 546.5,783.0 C549.1,785.3 552.3,787.1 555.9,789.4 C559.5,791.7 564.6,794.4 568.0,796.7 C571.4,799.0 574.0,800.8 576.2,803.3 C578.4,805.8 579.9,808.5 581.1,811.5 C582.3,814.5 583.0,817.3 583.6,821.4 C584.2,825.5 584.3,830.2 584.6,836.0 C584.9,841.8 585.0,849.3 585.6,856.0 C586.2,862.7 586.9,869.8 588.0,876.0 C589.1,882.2 591.0,886.5 592.0,893.0 C593.0,899.5 593.6,908.0 593.9,915.0 C594.2,922.0 593.8,929.2 593.6,935.0 C593.5,940.8 593.0,945.9 593.0,950.0 C593.0,954.1 592.8,957.1 593.5,959.5 C594.2,961.9 595.8,962.8 597.3,964.4 C598.8,966.0 600.5,967.4 602.3,969.4 C604.1,971.4 606.2,974.5 608.1,976.6 C610.0,978.8 612.8,981.3 613.8,982.3" fill="none" stroke="#231f20" stroke-width="1.1" stroke-linejoin="round" stroke-linecap="round"/>
<path d="M613.8,982.3 C613.6,982.6 613.3,983.7 612.4,984.1 C611.5,984.5 609.5,984.7 608.1,984.5 C606.7,984.3 604.5,983.2 603.8,983.0" fill="none" stroke="#231f20" stroke-width="1.1" stroke-linejoin="round" stroke-linecap="round"/>
<path d="M603.8,983.0 C603.8,984.2 604.0,987.4 604.0,990.0 C604.0,992.6 604.3,996.1 604.1,998.8 C603.9,1001.5 603.5,1004.2 603.0,1006.0 C602.5,1007.8 601.5,1008.9 600.9,1009.6 C600.2,1010.3 599.8,1010.1 599.1,1010.3 C598.4,1010.5 597.5,1010.7 596.9,1011.0 C596.2,1011.3 595.7,1012.0 595.2,1012.1 C594.7,1012.2 594.2,1011.8 593.7,1011.4 C593.2,1011.0 592.8,1010.1 592.3,1010.0 C591.8,1009.9 591.1,1010.8 590.5,1010.7 C589.9,1010.6 589.2,1010.1 588.7,1009.6 C588.2,1009.1 587.8,1008.0 587.3,1007.8 C586.8,1007.6 586.3,1008.5 585.8,1008.2 C585.2,1007.9 584.4,1007.0 584.0,1006.0 C583.6,1005.0 583.8,1004.2 583.7,1002.4 C583.6,1000.6 583.5,997.1 583.3,995.3 C583.0,993.5 582.9,993.5 582.2,991.7 C581.6,989.9 580.0,986.9 579.4,984.5 C578.8,982.1 578.4,979.7 578.3,977.3 C578.2,974.9 578.5,972.5 578.6,970.1 C578.7,967.7 578.8,965.1 578.6,962.9 C578.4,960.7 577.8,958.0 577.6,957.0" fill="none" stroke="#231f20" stroke-width="1.1" stroke-linejoin="round" stroke-linecap="round"/>
<path d="M528.6,705.2 C529.7,706.8 533.6,710.9 535.2,714.7 C536.9,718.5 538.0,723.4 538.5,727.8 C539.0,732.2 538.8,737.3 538.5,740.9 C538.2,744.5 537.5,746.5 536.8,749.2 C536.1,752.0 534.8,754.4 534.4,757.4 C534.0,760.4 534.0,763.7 534.4,767.2 C534.8,770.8 535.4,775.3 536.8,778.7 C538.1,782.1 540.0,785.3 542.5,787.5 C545.0,789.7 548.1,790.2 551.5,792.0 C554.9,793.8 560.0,795.7 563.0,798.0 C566.0,800.3 567.8,802.7 569.5,806.0 C571.2,809.3 572.0,813.2 573.0,818.0 C574.0,822.8 574.8,828.3 575.8,834.5 C576.8,840.7 577.8,848.2 578.8,855.0 C579.8,861.8 580.5,868.2 581.6,875.0 C582.7,881.8 584.2,889.3 585.2,896.0 C586.2,902.7 586.9,907.3 587.5,915.0 C588.1,922.7 588.3,935.3 588.6,942.1 C588.9,948.9 588.8,952.3 589.4,955.8 C590.0,959.3 590.9,960.8 592.3,962.9 C593.7,965.0 595.9,966.5 598.0,968.7 C600.1,970.9 603.1,974.0 605.2,975.9 C607.4,977.8 610.0,979.5 610.9,980.2" fill="none" stroke="#231f20" stroke-width="1.1" stroke-linejoin="round" stroke-linecap="round"/>
<path d="M577.6,957.0 C576.8,954.7 574.5,948.1 573.0,943.2 C571.5,938.3 569.9,935.4 568.3,927.6 C566.7,919.8 564.9,905.7 563.6,896.6 C562.3,887.5 561.8,880.7 560.5,873.3 C559.2,865.9 557.1,858.1 555.8,852.3 C554.5,846.4 553.2,841.0 552.5,838.2 C551.8,835.4 551.9,837.2 551.5,835.7 C551.1,834.2 550.2,831.5 550.3,829.5 C550.4,827.5 551.2,825.4 552.2,823.4 C553.2,821.4 555.8,818.2 556.5,817.2" fill="none" stroke="#231f20" stroke-width="1.1" stroke-linejoin="round" stroke-linecap="round"/>
<path d="M552.5,838.2 C553.0,840.6 555.6,847.0 555.8,852.3 C555.9,857.6 554.1,860.0 553.4,870.0 C552.7,880.0 552.0,901.2 551.6,912.1 C551.2,923.0 550.9,928.2 551.2,935.4 C551.5,942.6 552.8,948.0 553.5,955.1 C554.2,962.2 555.1,971.1 555.7,977.7 C556.3,984.4 557.0,986.7 557.2,995.0 C557.5,1003.3 557.4,1017.6 557.2,1027.7 C557.1,1037.8 556.1,1046.2 556.3,1055.4 C556.4,1064.6 557.3,1073.9 558.1,1083.1 C558.9,1092.3 560.6,1101.6 560.9,1110.8 C561.2,1120.0 560.0,1130.5 560.0,1138.5 C560.0,1146.5 560.0,1151.4 560.9,1158.8 C561.8,1166.2 564.7,1178.8 565.5,1182.8" fill="none" stroke="#231f20" stroke-width="1.1" stroke-linejoin="round" stroke-linecap="round"/>
<path d="M555.8,852.3 C556.7,857.1 561.0,872.3 561.3,881.0 C561.6,889.7 558.4,897.8 557.8,904.3 C557.1,910.8 557.2,914.1 557.4,919.9 C557.6,925.7 558.0,933.4 559.0,939.3 C560.0,945.2 562.5,950.2 563.6,955.1 C564.8,960.0 565.3,963.1 565.9,968.7 C566.5,974.4 566.6,983.8 567.0,989.0 C567.4,994.2 568.2,992.0 568.3,1000.0 C568.4,1008.0 568.2,1025.5 567.4,1036.9 C566.6,1048.3 563.4,1059.1 563.7,1068.3 C564.0,1077.5 568.3,1083.7 569.2,1092.3 C570.1,1100.9 569.5,1110.8 569.2,1120.0 C568.9,1129.2 567.2,1140.6 567.4,1147.7 C567.5,1154.8 569.8,1157.9 570.1,1162.5 C570.4,1167.1 570.3,1171.7 569.2,1175.4 C568.1,1179.1 565.1,1181.2 563.7,1184.6 C562.3,1188.0 562.4,1192.8 560.9,1195.7 C559.4,1198.6 557.4,1201.0 554.5,1202.2 C551.6,1203.4 546.5,1203.6 543.4,1203.1 C540.3,1202.6 538.1,1200.2 536.0,1199.4 C533.9,1198.6 531.9,1199.1 530.5,1198.5 C529.1,1197.9 527.4,1197.4 527.7,1195.7 C528.0,1194.0 530.3,1192.0 532.3,1188.3 C534.3,1184.6 537.1,1177.8 539.7,1173.5 C542.3,1169.2 546.8,1167.4 548.0,1162.5 C549.2,1157.6 548.2,1151.1 547.1,1144.0 C546.0,1136.9 543.4,1127.1 541.5,1120.0 C539.6,1112.9 536.9,1108.3 536.0,1101.5 C535.1,1094.7 536.5,1085.6 536.0,1079.4 C535.5,1073.2 534.0,1068.9 533.2,1064.6 C532.4,1060.3 531.4,1056.9 531.4,1053.5 C531.4,1050.1 532.9,1045.8 533.2,1044.3" fill="none" stroke="#231f20" stroke-width="1.1" stroke-linejoin="round" stroke-linecap="round"/>
<path d="M533.2,1044.3 C532.4,1043.7 530.6,1044.9 528.6,1040.6 C526.6,1036.3 522.6,1023.9 521.2,1018.5 C519.9,1013.1 520.8,1012.0 520.5,1008.0 C520.2,1004.0 520.1,998.7 519.6,994.6 C519.1,990.5 517.8,985.2 517.4,983.3" fill="none" stroke="#231f20" stroke-width="1.1" stroke-linejoin="round" stroke-linecap="round"/>
<path d="M541.5,1071.1 C542.4,1070.6 546.2,1068.8 547.1,1068.3" fill="none" stroke="#231f20" stroke-width="1.1" stroke-linejoin="round" stroke-linecap="round"/>
<path d="M495.8,780.7 C494.4,780.7 490.6,780.2 487.6,780.7 C484.6,781.2 480.7,782.0 477.7,783.6 C474.7,785.2 471.6,787.5 469.5,790.2 C467.4,792.9 466.3,796.7 465.4,800.0 C464.5,803.3 464.6,806.6 464.3,809.9 C464.0,813.2 463.9,816.5 463.6,820.0 C463.3,823.5 463.1,825.8 462.4,830.8 C461.7,835.8 460.1,843.4 459.2,849.8 C458.2,856.1 457.2,862.5 456.7,868.9 C456.2,875.3 456.2,882.6 456.1,888.2 C456.1,893.8 456.5,899.0 456.4,902.3 C456.3,905.6 455.9,906.4 455.6,908.0 C455.3,909.6 455.1,910.7 454.5,912.0 C453.9,913.3 452.9,914.6 451.7,916.0 C450.5,917.4 449.2,919.2 447.5,920.6 C445.8,922.0 443.3,923.3 441.5,924.3 C439.7,925.3 437.8,925.8 436.9,926.6 C436.0,927.4 435.9,928.3 436.0,928.9 C436.1,929.5 436.9,930.1 437.8,930.3 C438.7,930.4 440.1,930.1 441.5,929.8 C442.9,929.5 445.4,928.7 446.2,928.5" fill="none" stroke="#231f20" stroke-width="1.1" stroke-linejoin="round" stroke-linecap="round"/>
<path d="M477.6,865.6 C477.8,867.0 478.9,870.3 478.7,874.1 C478.5,877.9 477.5,883.5 476.4,888.2 C475.3,892.9 473.6,898.1 471.9,902.3 C470.2,906.5 467.7,910.3 466.3,913.6 C464.9,916.9 464.1,918.8 463.5,922.1 C462.9,925.4 463.0,931.4 462.9,933.3" fill="none" stroke="#231f20" stroke-width="1.1" stroke-linejoin="round" stroke-linecap="round"/>
<path d="M465.2,933.3 C465.2,931.9 465.0,927.4 465.4,924.9 C465.8,922.4 466.1,920.9 467.4,918.1 C468.7,915.3 471.4,911.6 473.1,908.0 C474.8,904.4 476.4,900.9 477.6,896.7 C478.8,892.5 479.8,886.8 480.4,882.6 C481.0,878.4 481.5,875.1 481.0,871.3 C480.5,867.5 478.5,863.4 477.6,860.0 C476.7,856.6 476.2,855.1 475.7,851.1 C475.2,847.1 474.6,838.4 474.4,835.9" fill="none" stroke="#231f20" stroke-width="1.1" stroke-linejoin="round" stroke-linecap="round"/>
<path d="M476.3,816.8 C475.9,818.3 474.1,822.5 473.8,825.7 C473.5,828.9 473.7,833.1 474.4,835.9 C475.1,838.6 476.5,840.6 478.2,842.2 C479.9,843.8 483.5,844.9 484.6,845.4" fill="none" stroke="#231f20" stroke-width="1.1" stroke-linejoin="round" stroke-linecap="round"/>
<path d="M477.0,860.0 C477.9,861.9 480.9,866.6 482.1,871.3 C483.3,876.0 483.9,881.6 484.3,888.2 C484.7,894.8 484.6,904.7 484.3,910.8 C484.0,916.9 483.4,920.0 482.6,924.9 C481.9,929.8 480.6,935.9 479.8,940.0 C479.0,944.1 478.6,945.1 477.9,949.5 C477.2,953.9 476.2,960.8 475.6,966.4 C475.0,972.0 474.5,977.6 474.5,983.3 C474.5,988.9 474.3,993.8 475.6,1000.3 C476.9,1006.8 480.7,1014.6 482.5,1022.2 C484.3,1029.9 485.6,1038.2 486.2,1046.2 C486.8,1054.2 485.6,1063.0 486.2,1070.1 C486.8,1077.2 488.3,1082.4 489.8,1088.6 C491.3,1094.8 494.3,1100.9 495.4,1107.1 C496.5,1113.2 496.3,1120.6 496.3,1125.5 C496.3,1130.4 497.1,1133.8 495.4,1136.6 C493.7,1139.4 489.9,1139.9 486.2,1142.1 C482.5,1144.2 476.9,1146.7 473.2,1149.5 C469.5,1152.3 465.8,1156.0 464.0,1158.8 C462.2,1161.6 461.3,1164.3 462.2,1166.1 C463.1,1167.9 466.1,1169.6 469.5,1169.8 C472.9,1170.0 478.2,1168.6 482.5,1167.1 C486.8,1165.6 491.1,1162.3 495.4,1160.6 C499.7,1158.9 504.5,1157.7 508.3,1156.9 C512.1,1156.1 516.3,1157.5 518.3,1156.0 C520.3,1154.5 520.1,1150.9 520.2,1147.7 C520.3,1144.5 518.8,1142.8 518.7,1136.6 C518.6,1130.4 519.3,1119.7 519.6,1110.8 C519.9,1101.9 520.5,1091.4 520.4,1083.1 C520.3,1074.8 519.0,1068.6 519.0,1060.9 C519.0,1053.2 519.8,1044.0 520.2,1036.9 C520.6,1029.8 521.5,1023.0 521.6,1018.5 C521.7,1014.0 521.1,1011.4 521.0,1010.0" fill="none" stroke="#231f20" stroke-width="1.1" stroke-linejoin="round" stroke-linecap="round"/>
<path d="M447.5,921.5 C448.1,921.9 449.4,923.0 450.8,923.8 C452.2,924.6 453.7,925.6 455.8,926.2 C457.9,926.8 461.6,927.3 463.2,927.5 C464.8,927.7 464.8,927.5 465.1,927.5" fill="none" stroke="#231f20" stroke-width="1.1" stroke-linejoin="round" stroke-linecap="round"/>
<path d="M515.0,787.6 C514.0,789.3 510.4,794.0 508.7,797.8 C507.0,801.6 505.8,805.0 504.9,810.5 C503.9,816.0 503.2,823.2 503.0,830.8 C502.8,838.4 503.2,847.8 503.6,856.2 C504.0,864.7 504.7,872.5 505.5,881.5 C506.3,890.5 507.5,901.5 508.4,910.0 C509.2,918.5 510.1,925.1 510.6,932.6 C511.2,940.1 511.1,949.1 511.7,955.1 C512.3,961.1 513.2,965.1 514.0,968.7 C514.8,972.3 516.2,973.2 516.3,976.6 C516.4,980.0 515.2,983.4 514.6,989.0 C514.0,994.6 513.5,1003.5 512.9,1010.0 C512.3,1016.5 511.7,1020.1 511.1,1027.7 C510.5,1035.3 509.5,1044.6 509.2,1055.4 C508.9,1066.2 509.3,1081.8 509.2,1092.3 C509.1,1102.8 508.0,1110.4 508.3,1118.1 C508.6,1125.8 510.3,1132.3 511.1,1138.5 C511.9,1144.7 512.6,1152.3 512.9,1155.1" fill="none" stroke="#231f20" stroke-width="1.1" stroke-linejoin="round" stroke-linecap="round"/>
<path d="M517.1,852.5 C519.2,852.6 525.8,853.6 530.0,852.9 C534.2,852.1 539.2,849.6 542.3,848.0 C545.4,846.4 546.8,844.7 548.5,843.1 C550.2,841.5 551.8,839.0 552.5,838.2" fill="none" stroke="#231f20" stroke-width="1.1" stroke-linejoin="round" stroke-linecap="round"/>
<path d="M481.3,930.3 C482.1,930.5 483.9,929.9 485.8,931.4 C487.7,932.9 490.5,936.5 492.6,939.3 C494.7,942.1 496.9,946.1 498.2,948.4 C499.5,950.7 500.1,952.1 500.5,952.9" fill="none" stroke="#231f20" stroke-width="1.1" stroke-linejoin="round" stroke-linecap="round"/>
<path d="M477.3,951.7 C478.3,952.7 480.9,955.7 483.5,957.4 C486.1,959.1 489.2,960.6 492.6,961.9 C496.0,963.2 499.7,964.4 503.8,965.3 C507.9,966.2 513.6,966.9 517.4,967.5 C521.2,968.1 523.0,968.3 526.4,968.7 C529.8,969.1 533.6,969.8 537.7,969.8 C541.8,969.8 546.5,969.0 551.2,968.7 C555.9,968.4 563.5,968.2 565.9,968.1" fill="none" stroke="#231f20" stroke-width="1.1" stroke-linejoin="round" stroke-linecap="round"/>
<path d="M503.8,956.3 C504.4,957.6 505.7,961.6 507.2,964.2 C508.7,966.8 511.4,969.9 512.9,972.0 C514.4,974.1 515.0,976.4 516.3,976.6 C517.6,976.8 519.1,975.7 520.8,973.2 C522.5,970.8 524.3,966.0 526.4,961.9 C528.5,957.8 530.6,952.3 533.2,948.4 C535.8,944.5 539.0,940.8 542.2,938.2 C545.4,935.6 550.7,933.5 552.4,932.6" fill="none" stroke="#231f20" stroke-width="1.1" stroke-linejoin="round" stroke-linecap="round"/>
<path d="M578.6,970.8 C579.9,971.2 583.7,972.3 586.5,973.0 C589.3,973.7 592.3,974.4 595.2,975.2 C598.1,976.0 602.4,977.5 603.8,978.0" fill="none" stroke="#231f20" stroke-width="1.1" stroke-linejoin="round" stroke-linecap="round"/>
<path d="M584.0,988.1 C585.2,988.0 588.4,987.9 591.0,987.8 C593.6,987.7 598.1,987.5 599.5,987.4" fill="none" stroke="#231f20" stroke-width="1.1" stroke-linejoin="round" stroke-linecap="round"/>
<path d="M446.6,928.9 C446.5,930.0 446.1,933.5 445.9,935.4 C445.7,937.2 445.3,939.2 445.2,940.0" fill="none" stroke="#231f20" stroke-width="1.1" stroke-linejoin="round" stroke-linecap="round"/>
<path d="M465.5,921.5 C465.6,922.7 466.1,926.2 466.0,928.5 C465.9,930.8 465.4,933.7 465.1,935.4 C464.8,937.1 464.3,938.1 464.1,938.6" fill="none" stroke="#231f20" stroke-width="1.1" stroke-linejoin="round" stroke-linecap="round"/>
<path d="M445.5,938.6 C445.4,939.6 444.9,942.8 444.8,944.6 C444.8,946.5 444.9,948.6 445.2,949.7 C445.5,950.9 446.1,951.4 446.6,951.5 C447.1,951.6 447.6,951.4 448.0,950.6 C448.4,949.8 448.7,948.8 448.9,946.9 C449.1,945.0 449.3,940.7 449.4,939.5" fill="none" stroke="#231f20" stroke-width="1.0" stroke-linejoin="round" stroke-linecap="round"/>
<path d="M449.4,939.5 C449.4,940.7 449.2,944.5 449.4,946.9 C449.5,949.3 449.9,952.4 450.3,953.8 C450.7,955.1 451.2,955.0 451.7,955.0 C452.2,955.0 452.8,955.1 453.1,953.8 C453.4,952.4 453.4,949.3 453.5,946.9 C453.6,944.5 453.9,940.7 454.0,939.5" fill="none" stroke="#231f20" stroke-width="1.0" stroke-linejoin="round" stroke-linecap="round"/>
<path d="M454.0,939.5 C453.9,940.7 453.4,944.4 453.5,946.9 C453.6,949.4 454.4,952.8 454.9,954.3 C455.4,955.8 455.8,955.7 456.3,955.7 C456.8,955.7 457.3,955.8 457.7,954.3 C458.1,952.8 458.4,949.5 458.6,946.9 C458.8,944.3 459.0,940.0 459.1,938.6" fill="none" stroke="#231f20" stroke-width="1.0" stroke-linejoin="round" stroke-linecap="round"/>
<path d="M459.1,938.6 C459.0,940.0 458.6,944.5 458.6,946.9 C458.6,949.3 458.7,951.8 459.1,952.9 C459.5,954.0 460.4,953.6 460.9,953.4 C461.4,953.2 461.9,952.6 462.3,951.5 C462.7,950.4 462.9,949.0 463.2,946.9 C463.5,944.8 464.0,940.0 464.1,938.6" fill="none" stroke="#231f20" stroke-width="1.0" stroke-linejoin="round" stroke-linecap="round"/>
<path d="M586.5,989.5 C586.5,991.2 586.7,997.0 586.8,1000.0 C586.9,1003.0 587.0,1006.2 587.1,1007.5" fill="none" stroke="#231f20" stroke-width="0.95" stroke-linejoin="round" stroke-linecap="round"/>
<path d="M592.3,989.5 C592.3,991.2 592.5,996.6 592.5,1000.0 C592.5,1003.4 592.6,1008.2 592.6,1009.8" fill="none" stroke="#231f20" stroke-width="0.95" stroke-linejoin="round" stroke-linecap="round"/>
<path d="M597.3,988.8 C597.3,990.7 597.4,996.3 597.4,1000.0 C597.4,1003.7 597.2,1009.0 597.2,1010.8" fill="none" stroke="#231f20" stroke-width="0.95" stroke-linejoin="round" stroke-linecap="round"/></g><!--/figure-->
  <g id="axes"><path d="M294.07,1015.45 L626.90,927.73" stroke="#2a2e85" stroke-width="2.3" stroke-dasharray="14.4 4.35" fill="none"/><path d="M632.70,926.20 L623.02,933.82 L624.38,928.39 L620.52,924.34 Z" fill="#2a2e85"/><path d="M285.90,1017.60 L295.58,1009.98 L294.22,1015.41 L298.08,1019.46 Z" fill="#2a2e85"/><path d="M370.29,916.70 L785.01,1028.83" stroke="#13a04e" stroke-width="2.3" stroke-dasharray="14.4 4.35" fill="none"/><path d="M790.80,1030.40 L778.61,1032.18 L782.50,1028.16 L781.17,1022.72 Z" fill="#13a04e"/><path d="M361.80,914.40 L373.99,912.62 L370.10,916.64 L371.43,922.08 Z" fill="#13a04e"/><path d="M517.00,631.00 L517.00,1229.20" stroke="#d4202c" stroke-width="2.3" stroke-dasharray="14.4 4.35" fill="none"/><path d="M517.00,1235.20 L512.10,1223.90 L517.00,1226.60 L521.90,1223.90 Z" fill="#d4202c"/><path d="M517.00,626.60 L521.90,637.90 L517.00,635.20 L512.10,637.90 Z" fill="#d4202c"/></g>
  <g id="labels">
    <text class="lab" x="462.6" y="607.7">Краниальный</text>
    <text class="lab" x="639.5" y="921.5">Дорзальный</text>
    <text class="lab" x="172.5" y="1033.7">Вентральный</text>
    <text class="lab" x="467.2" y="1266.5">Каудальный</text>
  </g>
  <g id="boxtext" text-anchor="middle">
    <g style="font-size:16.2px">
    <text class="bxb" x="289.2" y="666.8">Вертикальная ось</text>
    <text class="bx" x="289.2" y="686.6">(кранио-каудальная или продольная) –</text>
    <text class="bx" x="289.2" y="706.5">направлена вдоль тела,</text>
    <text class="bx" x="289.2" y="726.4">перепендикулярная плоскости опоры</text>
    </g>
    <g style="font-size:16.9px">
    <text class="bxb" x="282.1" y="1117.9">Сагиттальная ось</text>
    <text class="bx" x="282.1" y="1137.9">(вентро-декстральная или</text>
    <text class="bx" x="282.1" y="1157.9">переднезадняя) – направлена</text>
    <text class="bx" x="282.1" y="1177.9">спереди назад</text>
    </g>
    <g style="font-size:17px">
    <text class="bxb" x="722.4" y="1107.4">Фронтальная ось</text>
    <text class="bx" x="722.4" y="1127.5">(лево-правосторонняя или</text>
    <text class="bx" x="722.4" y="1147.5">поперечная) – пересекает</text>
    <text class="bx" x="722.4" y="1167.6">тело от одной стороны</text>
    <text class="bx" x="722.4" y="1187.6">к другой</text>
    </g>
  </g>
</svg>
<div class="hd" id="cap1" style="left:322.6px;top:1285px;font-size:21px;font-weight:bold;transform:scaleX(0.775);color:#63298b;">Рис. 1.7.</div>
<div class="hd" id="cap2" style="left:393.2px;top:1285px;font-size:21px;color:#231f20;transform:scaleX(0.844);">Оси и плоскости тела человека</div>
</body></html>
